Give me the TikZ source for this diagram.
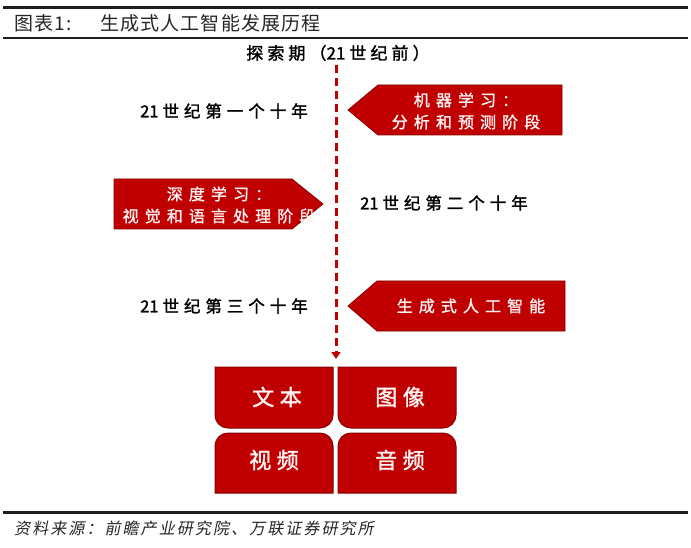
\documentclass[tikz,border=0pt]{standalone}
\usepackage{fontspec}
\setmainfont{Liberation Serif}
\newfontfamily\cjk{Noto Sans CJK SC}
\newcommand\tight[1]{{\addfontfeature{LetterSpace=0}#1}\kern4pt}
\usetikzlibrary{arrows.meta}
\definecolor{boxred}{HTML}{C00000}
\definecolor{edgered}{HTML}{8A0000}
\definecolor{dashred}{HTML}{C00000}
\definecolor{txtpink}{HTML}{FFF2F2}
\definecolor{rulegray}{HTML}{1E1E1E}
\begin{document}
\begin{tikzpicture}[x=1pt,y=1pt,
  rulelin/.style={line width=3pt, draw=rulegray},
  titletext/.style={anchor=west, inner sep=0pt, font={\fontsize{19}{22}\selectfont\cjk\addfontfeature{LetterSpace=6}}, text=black!85},
  era/.style={inner sep=0pt, font={\fontsize{16.5}{18}\selectfont\cjk\addfontfeature{LetterSpace=30,FakeBold=1.6}}, text=black},
  boxtext/.style={inner sep=0pt, align=center, font={\fontsize{16}{22}\selectfont\cjk\addfontfeature{LetterSpace=38,FakeBold=1.4}}, text=txtpink},
  celltext/.style={inner sep=0pt, font={\fontsize{22}{24}\selectfont\cjk\addfontfeature{LetterSpace=25,FakeBold=1.6}}, text=txtpink},
  arrowshape/.style={fill=boxred, draw=edgered, line width=0.8pt},
  cellshape/.style={fill=boxred, draw=edgered, line width=1pt},
  timeline/.style={draw=dashred, line width=3pt, dash pattern=on 8pt off 5pt, -{Triangle[length=7pt,width=9pt]}},
  srctext/.style={anchor=west, inner sep=0pt, font={\fontsize{16}{18}\selectfont\cjk\addfontfeature{LetterSpace=13,FakeSlant=0.2}}, text=black!85}
]
\useasboundingbox (0,0) rectangle (691,547);
\fill[white] (0,0) rectangle (691,547);

% header and footer rules
\coordinate (r1a) at (3,539); \coordinate (r1b) at (688,539);
\coordinate (r2a) at (3,509); \coordinate (r2b) at (688,509);
\coordinate (r3a) at (3,35);  \coordinate (r3b) at (688,35);
\draw[rulelin] (r1a) -- (r1b);
\draw[rulelin, line width=2.5pt] (r2a) -- (r2b);
\draw[rulelin] (r3a) -- (r3b);

\node[titletext] (title1) at (14,524) {图表1:};
\node[titletext] (title2) at (100,524) {生成式人工智能发展历程};

% timeline
\node[era, font={\fontsize{17}{19}\selectfont\cjk\addfontfeature{LetterSpace=24,FakeBold=1.6}}] (explore) at (338,494) {探索期（\tight{21}世纪前）};
\coordinate (tip) at (336,188);
\draw[timeline] (336,482) -- (tip);

\node[era] (d1) at (224,436) {\tight{21}世纪第一个十年};
\node[era] (d2) at (444,344) {\tight{21}世纪第二个十年};
\node[era] (d3) at (224,241) {\tight{21}世纪第三个十年};

% arrow boxes
\path[arrowshape] (348,437) -- (378,462) -- (562,462) -- (562,412) -- (378,412) -- cycle;
\node[boxtext] (ml) at (466,436) {机器学习：\\分析和预测阶段};

\path[arrowshape] (114,368) -- (292,368) -- (323,343) -- (292,318) -- (114,318) -- cycle;
\node[boxtext] (dl) at (219,342) {深度学习：\\视觉和语言处理阶段};

\path[arrowshape] (348,241) -- (377,266) -- (565,266) -- (565,216) -- (377,216) -- cycle;
\node[boxtext] (gai) at (471,241) {生成式人工智能};

% four cells
\path[cellshape] (215,180) -- (333,180) -- (333,132) arc[start angle=0,end angle=-90,radius=13] -- (228,119) arc[start angle=270,end angle=180,radius=13] -- cycle;
\path[cellshape] (338,180) -- (456,180) -- (456,132) arc[start angle=0,end angle=-90,radius=13] -- (351,119) arc[start angle=270,end angle=180,radius=13] -- cycle;
\path[cellshape] (215,54) -- (333,54) -- (333,101) arc[start angle=0,end angle=90,radius=13] -- (228,114) arc[start angle=90,end angle=180,radius=13] -- cycle;
\path[cellshape] (338,54) -- (456,54) -- (456,101) arc[start angle=0,end angle=90,radius=13] -- (351,114) arc[start angle=90,end angle=180,radius=13] -- cycle;

\node[celltext] (text) at (277,150) {文本};
\node[celltext] (image) at (400,150) {图像};
\node[celltext] (video) at (274,87) {视频};
\node[celltext] (audio) at (400,87) {音频};

% source
\node[srctext] (src) at (14,19) {资料来源：前瞻产业研究院、万联证券研究所};
\end{tikzpicture}
\end{document}
